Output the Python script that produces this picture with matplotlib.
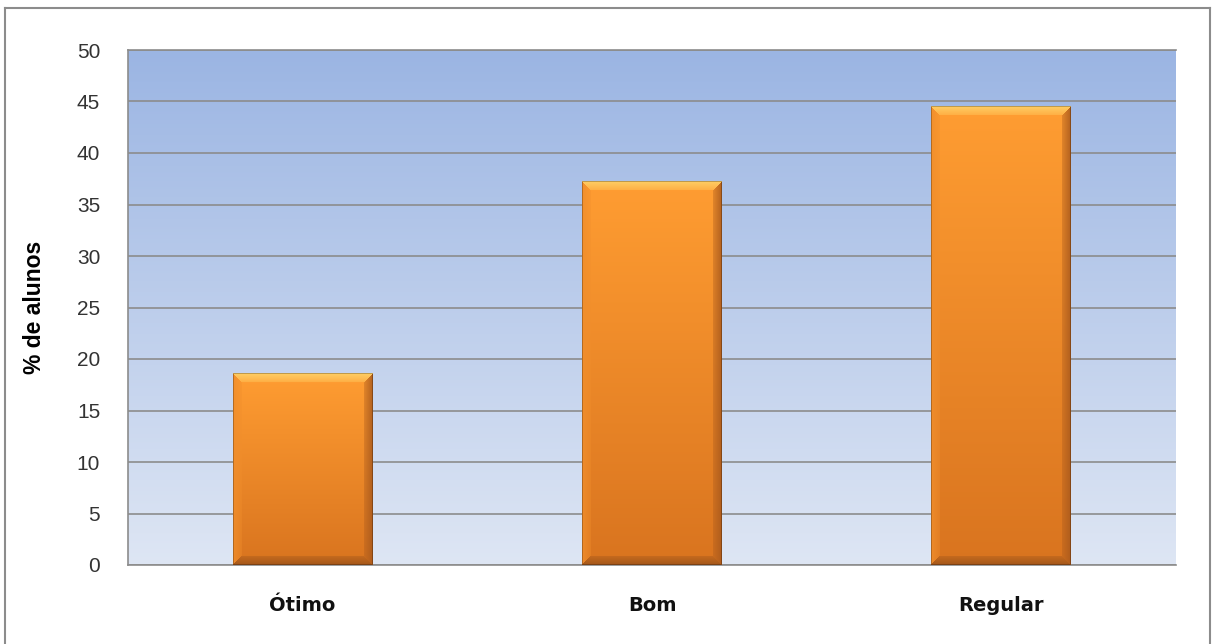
import numpy as np
import matplotlib
matplotlib.use('Agg')
import matplotlib.pyplot as plt
from matplotlib.colors import to_rgb
from matplotlib.lines import Line2D

categories = ['Ótimo', 'Bom', 'Regular']
values = [18.6, 37.2, 44.5]
y_ticks = list(range(0, 55, 5))

plt.rcParams['font.family'] = ['Liberation Sans', 'DejaVu Sans']


def bar_image(h, w, bevel=9):
    """Orange bar with a vertical gradient and bevelled edges."""
    top = np.array(to_rgb('#ff9d32'))
    bot = np.array(to_rgb('#d9741f'))
    t = np.linspace(0, 1, h)[:, None, None]
    img = np.broadcast_to(top * (1 - t) + bot * t, (h, w, 3)).copy()
    yy, xx = np.mgrid[0:h, 0:w]
    dists = np.stack([yy, w - 1 - xx, h - 1 - yy, xx])
    nearest = dists.argmin(0)
    dmin = dists.min(0)
    shades = ['#ffd66c', '#a9591c', '#9c531a', '#f08e2c']
    for k, c in enumerate(shades):
        m = (nearest == k) & (dmin < bevel)
        a = 0.3 + 0.55 * (1 - dmin[m] / bevel)
        img[m] = img[m] * (1 - a[:, None]) + np.array(to_rgb(c)) * a[:, None]
    # thin dark outline on the outer pixel ring
    edge = dmin < 1
    img[edge] = img[edge] * 0.75
    return img


fig = plt.figure(figsize=(12.12, 6.44), dpi=100)
ax = fig.add_axes([128 / 1212, 79 / 644, 1048 / 1212, 515 / 644])

# background gradient of the plot area
grad = np.linspace(0, 1, 256)[:, None, None]
c_top = np.array(to_rgb('#9bb5e3'))
c_bot = np.array(to_rgb('#dee6f4'))
bg = c_top * (1 - grad) + c_bot * grad
ax.imshow(bg, extent=(0, 1, 0, 1), transform=ax.transAxes, aspect='auto', zorder=0)

ax.set_xlim(-0.5, len(categories) - 0.5)
ax.set_ylim(0, 50)

bars = ax.bar(range(len(categories)), values, width=0.4, color='none', zorder=3)
for bar, v in zip(bars, values):
    x0, w = bar.get_x(), bar.get_width()
    img = bar_image(max(int(v * 10.3), 10), 140)
    ax.imshow(img, extent=(x0, x0 + w, 0, v), aspect='auto', zorder=3,
              interpolation='bilinear')

ax.set_yticks(y_ticks)
ax.yaxis.grid(True, color='#8c8c8c', linewidth=1.2, zorder=1)
ax.set_axisbelow(True)
ax.set_xticks(range(len(categories)))
ax.set_xticklabels(categories, fontweight='bold', fontsize=14, family='DejaVu Sans')
ax.tick_params(axis='x', length=0, pad=22, labelcolor='#111111')
ax.tick_params(axis='y', length=0, pad=20, labelsize=15, labelcolor='#333333')

ax.set_ylabel('% de alunos', fontsize=16.5, fontweight='bold')
ax.yaxis.set_label_coords(-0.0785, 0.5)

for side in ['left', 'top', 'bottom']:
    ax.spines[side].set_color('#8c8c8c')
    ax.spines[side].set_linewidth(1.2)
ax.spines['right'].set_visible(False)

# outer chart frame
fx0, fx1, fy1 = 5 / 1212, 1210 / 1212, 1 - 8 / 644
for xs, ys in [([fx0, fx0], [0, fy1]), ([fx0, fx1], [fy1, fy1]), ([fx1, fx1], [0, fy1])]:
    fig.add_artist(Line2D(xs, ys, transform=fig.transFigure, color='#8c8c8c', linewidth=1.5))

fig.savefig('out.png', dpi=100)
